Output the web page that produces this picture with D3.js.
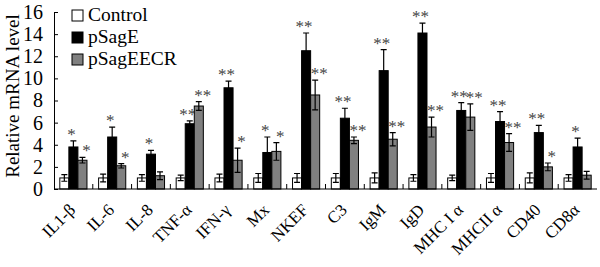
<!DOCTYPE html>
<html>
<head>
<meta charset="utf-8">
<script src="https://cdnjs.cloudflare.com/ajax/libs/d3/7.8.5/d3.min.js"></script>
<style>
  body { margin: 0; background: #fff; }
  svg text { font-family: "Liberation Serif", "Times New Roman", serif; }
</style>
</head>
<body>
<div id="chart"></div>
<script>
// Data
const genes = ["IL1-β", "IL-6", "IL-8", "TNF-α", "IFN-γ", "Mx", "NKEF", "C3", "IgM", "IgD", "MHC I α", "MHCII α", "CD40", "CD8α"];
const seriesNames = ["Control", "pSagE", "pSagEECR"];
const controlVals = [1, 1, 1, 1, 1, 1, 1, 1, 1, 1, 1, 1, 1, 1];
const controlErr = [0.3, 0.35, 0.3, 0.25, 0.35, 0.4, 0.4, 0.4, 0.45, 0.3, 0.25, 0.4, 0.45, 0.3];
const pSagEVals = [3.8, 4.7, 3.15, 5.9, 9.15, 3.3, 12.5, 6.4, 10.7, 14.1, 7.1, 6.1, 5.1, 3.8];
const pSagEErr = [0.55, 0.9, 0.35, 0.25, 0.6, 1.4, 1.6, 0.9, 1.9, 0.9, 0.7, 0.9, 0.65, 0.8];
const ecrVals = [2.6, 2.1, 1.2, 7.5, 2.6, 3.4, 8.5, 4.4, 4.5, 5.6, 6.5, 4.2, 2.0, 1.25];
const ecrErr = [0.25, 0.2, 0.35, 0.4, 1.1, 0.8, 1.35, 0.3, 0.6, 0.9, 1.2, 0.8, 0.35, 0.35];
const pSagESig = ["*", "*", "*", "**", "**", "*", "**", "**", "**", "**", "**", "**", "**", "*"];
const ecrSig = ["*", "*", "", "**", "*", "*", "**", "**", "**", "**", "**", "**", "*", ""];
const yTicks = [0, 2, 4, 6, 8, 10, 12, 14, 16];

const W = 600, H = 267;
const margin = { top: 12, right: 3, bottom: 78, left: 54 };
const width = W - margin.left - margin.right;
const height = H - margin.top - margin.bottom;

const svg = d3.select("#chart").append("svg")
  .attr("width", W).attr("height", H);
const g = svg.append("g").attr("transform", `translate(${margin.left},${margin.top})`);

const x0 = d3.scaleBand().domain(genes).range([0, width]).paddingInner(0.3).paddingOuter(0.15);
const x1 = d3.scaleBand().domain(seriesNames).range([0, x0.bandwidth()]);
const y = d3.scaleLinear().domain([0, 16]).range([height, 0]);

const fills = { "Control": "#fff", "pSagE": "#000", "pSagEECR": "#808080" };
const starShift = { "Control": 0, "pSagE": -2, "pSagEECR": 4 };

const rows = genes.map((gname, i) => ({
  gene: gname,
  bars: [
    { s: "Control", v: controlVals[i], e: controlErr[i], sig: "" },
    { s: "pSagE", v: pSagEVals[i], e: pSagEErr[i], sig: pSagESig[i] },
    { s: "pSagEECR", v: ecrVals[i], e: ecrErr[i], sig: ecrSig[i] }
  ]
}));

const groups = g.selectAll("g.grp").data(rows).join("g")
  .attr("class", "grp")
  .attr("transform", d => `translate(${x0(d.gene)},0)`);

const bar = groups.selectAll("g.bar").data(d => d.bars).join("g").attr("class", "bar");

bar.append("rect")
  .attr("x", d => x1(d.s))
  .attr("y", d => y(d.v))
  .attr("width", x1.bandwidth())
  .attr("height", d => y(0) - y(d.v))
  .attr("fill", d => fills[d.s])
  .attr("stroke", "#000")
  .attr("stroke-width", 1);

// error bars, drawn up and down
const cap = 3;
bar.append("path")
  .attr("d", d => {
    const cx = x1(d.s) + x1.bandwidth() / 2;
    const t = y(d.v + d.e), b = y(Math.max(0, d.v - d.e));
    return `M${cx},${t}V${b}M${cx - cap},${t}H${cx + cap}M${cx - cap},${b}H${cx + cap}`;
  })
  .attr("stroke", "#000")
  .attr("fill", "none")
  .attr("stroke-width", 1.2);

// significance stars
bar.filter(d => d.sig).append("text")
  .attr("x", d => x1(d.s) + x1.bandwidth() / 2 + starShift[d.s])
  .attr("y", d => y(d.v + d.e) - 1)
  .attr("text-anchor", "middle")
  .attr("fill", "#444")
  .style("font-size", "17px")
  .text(d => d.sig);

// axes
const yAxis = g.append("g")
  .call(d3.axisLeft(y).tickValues(yTicks).tickSizeInner(-4).tickSizeOuter(0).tickPadding(11));
yAxis.select(".domain").attr("stroke", "#000");
yAxis.selectAll("text").style("font-size", "20px").attr("fill", "#000");

const xAxis = g.append("g").attr("transform", `translate(0,${height})`);
xAxis.append("line").attr("x1", 0).attr("x2", width).attr("stroke", "#000");
const bounds = genes.slice(1).map(gname => x0(gname) - x0.step() * x0.paddingInner() / 2);
xAxis.selectAll("line.tk").data(bounds).join("line")
  .attr("class", "tk")
  .attr("x1", d => d).attr("x2", d => d)
  .attr("y1", 0).attr("y2", -5)
  .attr("stroke", "#000");

// rotated category labels
const lx = d => x0(d) + x0.bandwidth() / 2 + 3;
const ly = 22;
xAxis.selectAll("text.lbl").data(genes).join("text")
  .attr("class", "lbl")
  .attr("text-anchor", "end")
  .attr("transform", d => `translate(${lx(d)},${ly}) rotate(-45)`)
  .style("transform", d => `translate(${lx(d)}px, ${ly}px) rotate(-45deg)`)
  .style("font-size", "17px")
  .attr("fill", "#000")
  .text(d => d);

// y label
svg.append("text")
  .attr("transform", "translate(19,96) rotate(-90)")
  .attr("text-anchor", "middle")
  .style("font-size", "19px")
  .text("Relative mRNA level");

// legend
const legend = svg.append("g").attr("transform", "translate(72,10)");
seriesNames.forEach((s, i) => {
  const lg = legend.append("g").attr("transform", `translate(0,${i * 22})`);
  lg.append("rect").attr("width", 11).attr("height", 11)
    .attr("fill", fills[s]).attr("stroke", "#000");
  lg.append("text").attr("x", 16).attr("y", 11)
    .style("font-size", "19.5px").text(s);
});
</script>
</body>
</html>
